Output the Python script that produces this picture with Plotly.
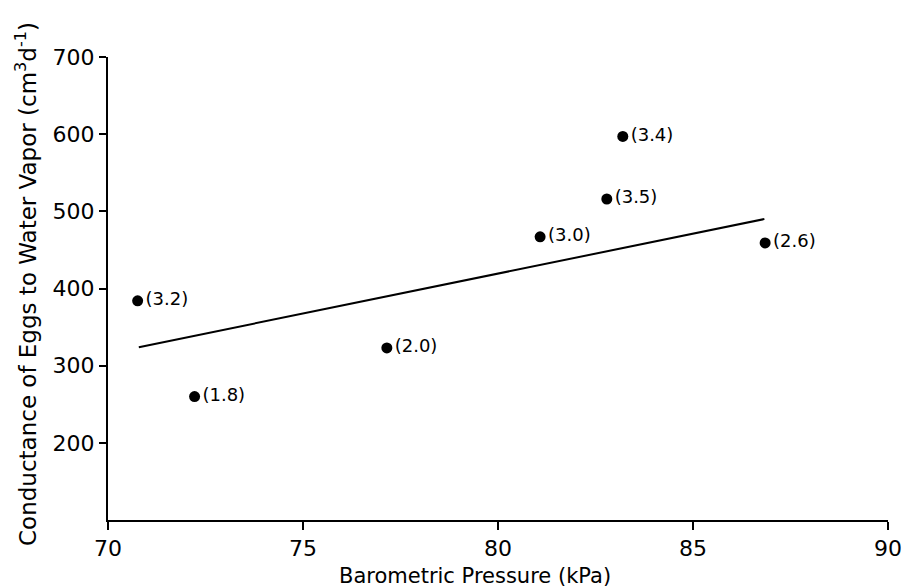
import plotly.graph_objects as go

# Data
pressure_kpa = [70.76, 72.22, 77.15, 81.08, 82.79, 83.2, 86.85]
conductance = [384, 260, 323, 467, 516, 597, 459]
point_labels = ["(3.2)", "(1.8)", "(2.0)", "(3.0)", "(3.5)", "(3.4)", "(2.6)"]

fit_x = [70.79, 86.83]
fit_y = [324, 490]

x_ticks = [70, 75, 80, 85, 90]
y_ticks = [200, 300, 400, 500, 600, 700]

FONT = "DejaVu Sans"

fig = go.Figure()
fig.add_trace(go.Scatter(
    x=fit_x, y=fit_y, mode="lines",
    line=dict(color="black", width=2), showlegend=False, hoverinfo="skip"))
fig.add_trace(go.Scatter(
    x=pressure_kpa, y=conductance, mode="markers+text",
    marker=dict(color="black", size=11),
    text=point_labels, textposition="middle right",
    textfont=dict(family=FONT, size=18, color="black"),
    showlegend=False))

fig.update_layout(
    width=905, height=587,
    margin=dict(l=108, r=17, t=57, b=67),
    paper_bgcolor="white", plot_bgcolor="white",
    font=dict(family=FONT, color="black"),
    xaxis=dict(range=[70, 90], tickvals=x_ticks, showgrid=False, zeroline=False,
               showline=True, linecolor="black", linewidth=2, automargin=False,
               ticks="outside", ticklen=8, tickwidth=1.5, tickcolor="black",
               tickfont=dict(family=FONT, size=22)),
    yaxis=dict(range=[100, 700], tickvals=y_ticks, showgrid=False, zeroline=False,
               showline=True, linecolor="black", linewidth=2, automargin=False,
               ticks="outside", ticklen=7, tickwidth=1.5, tickcolor="black",
               tickfont=dict(family=FONT, size=22)),
    annotations=[
        dict(text="Barometric Pressure (kPa)", xref="paper", yref="paper",
             x=0.47, y=-0.121, xanchor="center", yanchor="middle", showarrow=False,
             font=dict(family=FONT, size=21, color="black")),
        dict(text="Conductance of Eggs to Water Vapor (cm<sup>3</sup>d<sup>-1</sup>)",
             xref="paper", yref="paper", x=-0.105, y=0.51, xanchor="center",
             yanchor="middle", textangle=-90, showarrow=False,
             font=dict(family=FONT, size=23, color="black")),
    ],
)

fig.write_html("out.html", config={"displayModeBar": False},
               post_script="document.body.style.margin='0';")
